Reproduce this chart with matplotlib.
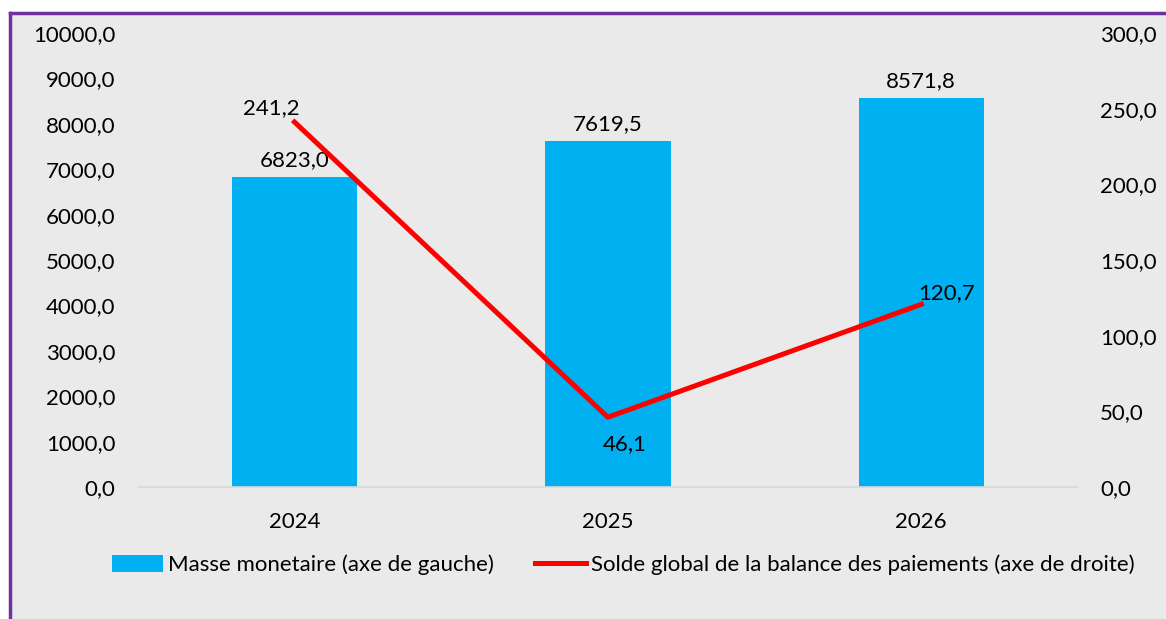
import matplotlib.pyplot as plt
from matplotlib.patches import Rectangle
from matplotlib.lines import Line2D
from matplotlib.ticker import FuncFormatter, MultipleLocator

years = ['2024', '2025', '2026']
masse_monetaire = [6823.0, 7619.5, 8571.8]
solde_global = [241.2, 46.1, 120.7]

BLUE = '#00B0F0'
RED = '#FF0000'
PURPLE = '#7030A0'
FONT = 'Lato'
FS = 16


def virgule(v, pos=None):
    return f"{v:.1f}".replace('.', ',')


fig = plt.figure(figsize=(11.66, 6.19), dpi=100)
fig.patch.set_facecolor('white')

# background panel with purple frame on top and left
W, H = 1166, 619
fig.add_artist(Rectangle((10 / W, 0), 1 - 10 / W, 1 - 13 / H, transform=fig.transFigure,
                         facecolor='#eaeaea', edgecolor='none', zorder=-10))
fig.add_artist(Line2D([10 / W, 1], [1 - 13 / H, 1 - 13 / H], transform=fig.transFigure,
                      color=PURPLE, lw=2.5, zorder=-5))
fig.add_artist(Line2D([10 / W, 10 / W], [0, 1 - 13 / H], transform=fig.transFigure,
                      color=PURPLE, lw=2.5, zorder=-5))

ax = fig.add_axes([137.75 / W, 132 / H, (1078 - 137.75) / W, (487 - 33) / H])
ax.set_facecolor('none')
x = list(range(len(years)))

bars = ax.bar(x, masse_monetaire, width=0.4, color=BLUE, zorder=2,
              label='Masse monetaire (axe de gauche)')
for xi, v in zip(x, masse_monetaire):
    ax.annotate(virgule(v), (xi, v), xytext=(0, 5), textcoords='offset points',
                ha='center', va='bottom', fontsize=FS, family=FONT)

ax.set_xlim(-0.5, 2.5)
ax.set_ylim(0, 10000)
ax.yaxis.set_major_locator(MultipleLocator(1000))
ax.yaxis.set_major_formatter(FuncFormatter(virgule))
ax.set_xticks(x)
ax.set_xticklabels(years)
for s in ['top', 'right', 'left']:
    ax.spines[s].set_visible(False)
ax.spines['bottom'].set_color('#d9d9d9')
ax.spines['bottom'].set_linewidth(1.2)
ax.tick_params(axis='y', length=0, pad=16, labelsize=FS)
ax.tick_params(axis='x', length=0, pad=18, labelsize=FS)

ax2 = ax.twinx()
ax2.set_ylim(0, 300)
ax2.yaxis.set_major_locator(MultipleLocator(50))
ax2.yaxis.set_major_formatter(FuncFormatter(virgule))
for s in ['top', 'right', 'left', 'bottom']:
    ax2.spines[s].set_visible(False)
ax2.tick_params(axis='y', length=0, pad=16, labelsize=FS)
line, = ax2.plot(x, solde_global, color=RED, lw=3.6, zorder=3,
                 label='Solde global de la balance des paiements (axe de droite)')

offsets = [(-17, 3), (12, -12), (18, 1)]
valign = ['bottom', 'top', 'bottom']
for xi, v, off, va in zip(x, solde_global, offsets, valign):
    ax2.annotate(virgule(v), (xi, v), xytext=off, textcoords='offset points',
                 ha='center', va=va, fontsize=FS, family=FONT)

for lab in ax.get_xticklabels() + ax.get_yticklabels() + ax2.get_yticklabels():
    lab.set_family(FONT)

fig.legend([bars, line], [bars.get_label(), line.get_label()], ncol=2,
           loc='center', bbox_to_anchor=(623 / W, 1 - 565 / H), frameon=False,
           prop={'family': FONT, 'size': FS}, handlelength=2.3, handletextpad=0.22,
           columnspacing=1.85, handleheight=0.8)

fig.savefig('out.png', dpi=100)
